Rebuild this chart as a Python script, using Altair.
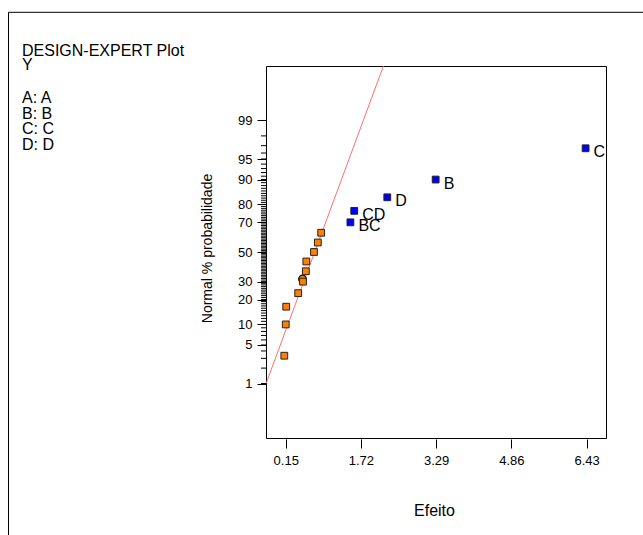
import altair as alt
import pandas as pd
from statistics import NormalDist

# ---- data ----
effects = [0.12, 0.15, 0.16, 0.41, 0.51, 0.57, 0.58, 0.74, 0.82, 0.89, 1.50, 1.58, 2.27, 3.28, 6.41]
percents = [3.33, 10.0, 16.67, 23.33, 30.0, 36.67, 43.33, 50.0, 56.67, 63.33, 70.0, 76.67, 83.33, 90.0, 96.67]
terms = ["", "", "", "", "", "", "", "", "", "", "BC", "CD", "D", "B", "C"]
groups = ["error", "error", "error", "error", "error", "error", "error", "error", "error", "error",
          "effect", "effect", "effect", "effect", "effect"]

circle_x = [0.50]
circle_p = [31.6]

line_x = [-0.26, 2.19]
line_p = [1.0, 99.95]

major_pct = [1, 5, 10, 20, 30, 50, 70, 80, 90, 95, 99]
minor_pct = list(range(1, 100))
x_ticks = [0.15, 1.72, 3.29, 4.86, 6.43]

info_title = "DESIGN-EXPERT Plot"
info_resp = "Y"
info_factors = "A: A\nB: B\nC: C\nD: D"

# ---- tables ----
nd = NormalDist()
pts = pd.DataFrame({"x": effects, "p": percents, "term": terms, "group": groups})
circ = pd.DataFrame({"x": circle_x, "p": circle_p})
ln = pd.DataFrame({"x": line_x, "p": line_p})
minor = pd.DataFrame({"p": minor_pct})
one = pd.DataFrame({"a": [0]})

major_vals = [nd.inv_cdf(p / 100) for p in major_pct]

FONT = "Liberation Sans"
yscale = alt.Scale(domain=[-3.29, 3.29], nice=False, zero=False)
xscale = alt.Scale(domain=[-0.262, 6.836], nice=False, zero=False)

x_axis = alt.Axis(values=x_ticks, format=".2f", tickSize=9, offset=1, grid=False, domain=False,
                  labelFont=FONT, labelFontSize=13, labelColor="black", labelPadding=6,
                  tickColor="black", title="Efeito", titleFont=FONT, titleFontSize=16,
                  titleFontWeight="normal", titleColor="black", titleBaseline="alphabetic",
                  titleY=76, titleX=168)

y_axis = alt.Axis(orient="left", values=major_vals,
                  labelExpr="format(round(cumulativeNormal(datum.value)*100), 'd')",
                  tickSize=9, grid=False, domain=False, labelFont=FONT, labelFontSize=13,
                  labelColor="black", labelPadding=5, tickColor="black",
                  title="Normal % probabilidade", titleFont=FONT,
                  titleFontSize=14, titleFontWeight="normal", titleColor="black",
                  titleAngle=270, titleBaseline="bottom", titleX=-52, titleY=182)

calc = "quantileNormal(datum.p / 100)"
X = alt.X("x:Q", scale=xscale, axis=x_axis)
Y = alt.Y("z:Q", scale=yscale, axis=y_axis)

line = alt.Chart(ln).transform_calculate(z=calc).mark_line(
    color="#ff7070", strokeWidth=1, clip=True
).encode(x=X, y=Y)

minor_ticks = alt.Chart(minor).transform_calculate(z=calc).mark_rule(
    color="black", strokeWidth=1, clip=False
).encode(x=alt.value(-5), x2=alt.value(0), y=Y)

circle = alt.Chart(circ).transform_calculate(z=calc).mark_point(
    shape="circle", filled=True, size=60, color="#ff8000", stroke="#111", strokeWidth=1.2, opacity=1
).encode(x=X, y=Y)

squares = alt.Chart(pts).transform_calculate(z=calc).mark_square(
    size=46, stroke="#222", strokeWidth=1, opacity=1
).encode(
    x=X, y=Y,
    color=alt.Color("group:N", scale=alt.Scale(domain=["error", "effect"], range=["#ff8000", "#0000ff"]),
                    legend=None),
)

labels = alt.Chart(pts).transform_calculate(z=calc).mark_text(
    align="left", baseline="middle", dx=8, dy=4, font=FONT, fontSize=16, color="black", clip=True
).encode(x=X, y=Y, text="term:N")

border_left = alt.Chart(one).mark_rule(color="black", strokeWidth=1, clip=False).encode(
    x=alt.value(-257.5), y=alt.value(-53.7), y2=alt.value(480)
)
border_top = alt.Chart(one).mark_rule(color="black", strokeWidth=1, clip=False).encode(
    x=alt.value(-257.5), x2=alt.value(380), y=alt.value(-53.7)
)

txt_kw = dict(align="left", baseline="alphabetic", font=FONT, fontSize=16, color="black", clip=False)
t1 = alt.Chart(one).mark_text(text=info_title, **txt_kw).encode(x=alt.value(-244), y=alt.value(-10))
t2 = alt.Chart(one).mark_text(text=info_resp, **txt_kw).encode(x=alt.value(-244), y=alt.value(4))
t3 = alt.Chart(one).mark_text(text=info_factors, lineBreak="\n", lineHeight=15.6, **txt_kw).encode(
    x=alt.value(-244), y=alt.value(37.0))

chart = alt.layer(
    line, minor_ticks, circle, squares, labels, border_left, border_top, t1, t2, t3
).properties(
    width=340, height=372,
    background="white",
    autosize=alt.AutoSizeParams(type="none"),
    padding={"left": 266, "top": 66, "right": 37, "bottom": 97},
).configure_view(stroke="black", strokeWidth=1)

chart.save("out.html", embed_options={"renderer": "svg", "actions": False})
